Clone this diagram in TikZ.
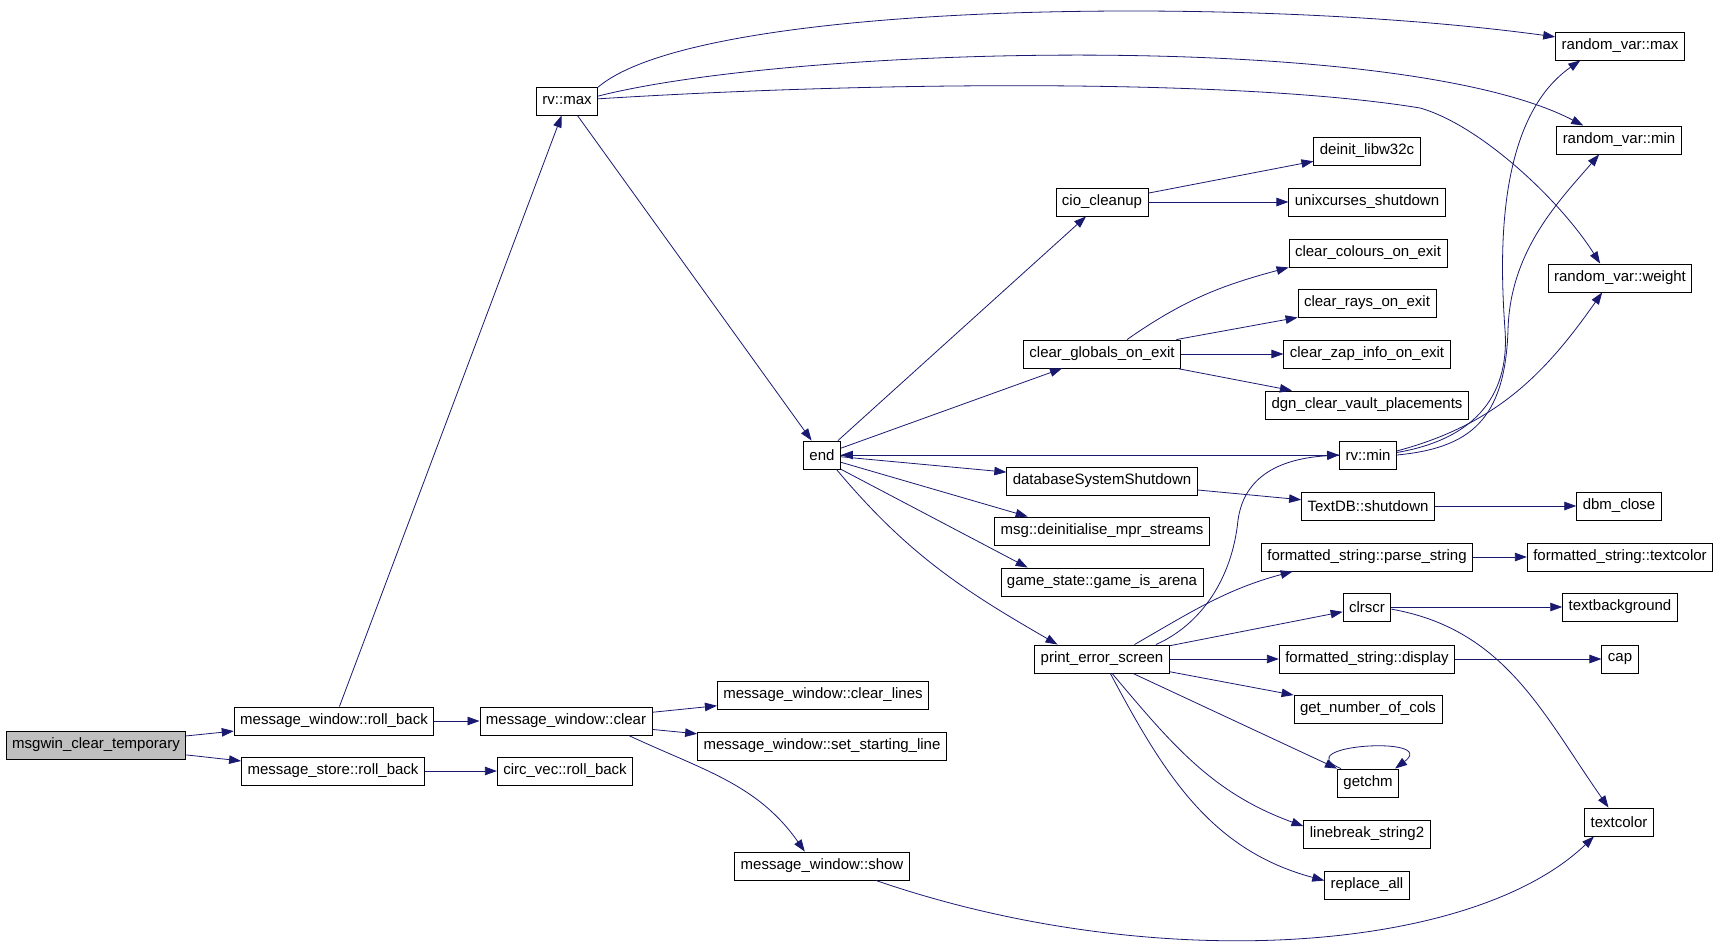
\documentclass[tikz,border=0pt]{standalone}
\usepackage{fontspec}
\setmainfont{Liberation Sans}
\usetikzlibrary{positioning,arrows.meta}
\definecolor{callblue}{HTML}{191970}

\begin{document}
\begin{tikzpicture}[x=1pt,y=-1pt,
  fn/.style={draw,line width=0.9pt,minimum height=28pt,inner xsep=6pt,inner ysep=0pt,
    font=\fontsize{15pt}{18pt}\selectfont},
  call/.style={->,draw=callblue,line width=0.8pt},
  >={Triangle[length=12pt,width=8.5pt]}]
\useasboundingbox (0,0) rectangle (1720,945);
\node[fn,fill=gray!50] (msgwin) at (96,745) {msgwin\_clear\_temporary};
\node[fn] (mwrollback) at (334,721) {message\_window::roll\_back};
\node[fn] (msrollback) at (333,771) {message\_store::roll\_back};
\node[fn] (mwclear) at (566,721) {message\_window::clear};
\node[fn] (circvec) at (565,771) {circ\_vec::roll\_back};
\node[fn] (clearlines) at (823,695) {message\_window::clear\_lines};
\node[fn] (setstart) at (822,746) {message\_window::set\_starting\_line};
\node[fn] (mwshow) at (822,866) {message\_window::show};
\node[fn] (rvmax) at (567,101) {rv::max};
\node[fn] (end) at (822,455) {end};
\node[fn] (cio) at (1102,202) {cio\_cleanup};
\node[fn] (clrglob) at (1102,354) {clear\_globals\_on\_exit};
\node[fn] (dbshut) at (1102,481) {databaseSystemShutdown};
\node[fn] (msgdeinit) at (1102,531) {msg::deinitialise\_mpr\_streams};
\node[fn] (gamearena) at (1102,582) {game\_state::game\_is\_arena};
\node[fn] (pes) at (1102,659) {print\_error\_screen};
\node[fn] (deinit) at (1367,151) {deinit\_libw32c};
\node[fn] (unixc) at (1367,202) {unixcurses\_shutdown};
\node[fn] (clrcol) at (1368,253) {clear\_colours\_on\_exit};
\node[fn] (clrrays) at (1367,303) {clear\_rays\_on\_exit};
\node[fn] (clrzap) at (1367,354) {clear\_zap\_info\_on\_exit};
\node[fn] (dgn) at (1367,405) {dgn\_clear\_vault\_placements};
\node[fn] (rvmin) at (1368,455) {rv::min};
\node[fn] (textdb) at (1368,506) {TextDB::shutdown};
\node[fn] (parsestr) at (1367,557) {formatted\_string::parse\_string};
\node[fn] (clrscr) at (1367,607) {clrscr};
\node[fn] (fsdisplay) at (1367,659) {formatted\_string::display};
\node[fn] (getcols) at (1368,709) {get\_number\_of\_cols};
\node[fn] (getchm) at (1368,783) {getchm};
\node[fn] (linebreak) at (1367,834) {linebreak\_string2};
\node[fn] (replaceall) at (1367,885) {replace\_all};
\node[fn] (rvarmax) at (1620,46) {random\_var::max};
\node[fn] (rvarmin) at (1619,140) {random\_var::min};
\node[fn] (rvarweight) at (1620,278) {random\_var::weight};
\node[fn] (dbm) at (1619,506) {dbm\_close};
\node[fn] (fstextcolor) at (1620,557) {formatted\_string::textcolor};
\node[fn] (textbg) at (1620,607) {textbackground};
\node[fn] (cap) at (1620,659) {cap};
\node[fn] (textcolor) at (1619,822) {textcolor};
%
\draw[call] (msgwin) -- (mwrollback);
\draw[call] (msgwin) -- (msrollback);
\draw[call] (mwrollback) -- (mwclear);
\draw[call] (mwrollback) -- (rvmax);
\draw[call] (msrollback) -- (circvec);
\draw[call] (mwclear) -- (clearlines);
\draw[call] (mwclear) -- (setstart);
\draw[call] (mwclear.-13) to[out=-25,in=125] (mwshow.140);
\draw[call] (mwshow.-15) .. controls (1150,975) and (1470,955) .. (textcolor.-150);
%
\draw[call] (rvmax.24) .. controls (700,0) and (1250,-5) .. (rvarmax.172);
\draw[call] (rvmax.9) .. controls (800,45) and (1400,30) .. (rvarmin.158);
\draw[call] (rvmax.4) .. controls (900,80) and (1250,80) .. (1420,108)
  .. controls (1480,125) and (1560,200) .. (rvarweight.144);
\draw[call] (rvmax) -- (end);
%
\draw[call] (end) -- (cio);
\draw[call] (end) -- (clrglob);
\draw[call] (end) -- (rvmin);
\draw[call] (rvmin) -- (end);
\draw[call] (end) -- (dbshut);
\draw[call] (end.-21) -- (msgdeinit.169);
\draw[call] (end.-37) -- (gamearena.169);
\draw[call] (end.-45) to[out=-50,in=150] (pes.162);
%
\draw[call] (cio) -- (deinit);
\draw[call] (cio) -- (unixc);
\draw[call] (clrglob.30) to[out=35,in=195] (clrcol.south west);
\draw[call] (clrglob.11) -- (clrrays.south west);
\draw[call] (clrglob) -- (clrzap);
\draw[call] (clrglob) -- (dgn);
%
\draw[call] (rvmin.5) .. controls (1470,440) and (1510,400) .. (1505,330)
  .. controls (1500,260) and (1495,120) .. (rvarmax.-160);
\draw[call] (rvmin.0) .. controls (1470,448) and (1505,420) .. (1508,330)
  .. controls (1510,250) and (1560,200) .. (rvarmin.-144);
\draw[call] (rvmin.8) to[out=15,in=-125] (rvarweight.-141);
%
\draw[call] (dbshut) -- (textdb);
\draw[call] (textdb) -- (dbm);
%
\draw[call] (pes.15) .. controls (1200,625) and (1232,580) .. (1238,520)
  .. controls (1245,470) and (1290,458) .. (rvmin.west);
\draw[call] (pes.24) to[out=30,in=-165] (parsestr.-169);
\draw[call] (pes) -- (clrscr);
\draw[call] (pes) -- (fsdisplay);
\draw[call] (pes) -- (getcols);
\draw[call] (pes) -- (getchm);
\draw[call] (pes.-55) to[out=-50,in=160] (linebreak.173);
\draw[call] (pes.-60) to[out=-62,in=165] (replaceall.174);
\draw[call] ([xshift=4pt]getchm.north west) .. controls (1285,745) and (1440,735)
  .. ([xshift=-4pt]getchm.north east);
%
\draw[call] (parsestr) -- (fstextcolor);
\draw[call] (clrscr) -- (textbg);
\draw[call] (clrscr.-5) to[out=-10,in=125] (textcolor.126);
\draw[call] (fsdisplay) -- (cap);
\end{tikzpicture}
\end{document}
